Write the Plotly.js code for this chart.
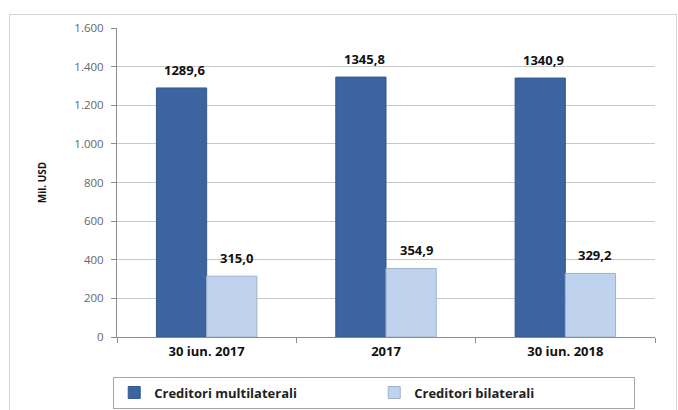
<!DOCTYPE html>
<html>
<head>
<meta charset="utf-8">
<script src="https://cdn.plot.ly/plotly-3.0.1.min.js"></script>
<style>
html,body{margin:0;padding:0;background:#fff;}
#frame{position:absolute;left:9px;top:14px;width:668px;height:400px;border:1px solid #d4d4d4;box-sizing:border-box;}
#chart{position:absolute;left:0;top:0;width:678px;height:410px;}
</style>
</head>
<body>
<div id="frame"></div>
<div id="chart"></div>
<script>
const categories = ['30 iun. 2017', '2017', '30 iun. 2018'];
const multilateral = [1289.6, 1345.8, 1340.9];
const bilateral = [315.0, 354.9, 329.2];
const seriesNames = ['Creditori multilaterali', 'Creditori bilaterali'];
const yTickVals = [0, 200, 400, 600, 800, 1000, 1200, 1400, 1600];

const fmt = v => v.toFixed(1).replace('.', ',');
const fmtTick = v => v >= 1000 ? Math.floor(v/1000) + '.' + String(v % 1000).padStart(3, '0') : String(v);

const traces = [
  {type:'bar', name:seriesNames[0], x:categories, y:multilateral,
   marker:{color:'#3b64a0', line:{color:'#34598f', width:1}}, hoverinfo:'skip'},
  {type:'bar', name:seriesNames[1], x:categories, y:bilateral,
   marker:{color:'#bfd3ee', line:{color:'#9fb2c9', width:1}}, hoverinfo:'skip'}
];

const annotations = [];
categories.forEach((c, i) => {
  annotations.push({x:i, y:multilateral[i], text:fmt(multilateral[i]), xref:'x', yref:'y',
    showarrow:false, xshift:-22, yshift:7, yanchor:'bottom',
    font:{family:'Open Sans, sans-serif', size:13, color:'#111', weight:'bold'}});
  annotations.push({x:i, y:bilateral[i], text:fmt(bilateral[i]), xref:'x', yref:'y',
    showarrow:false, xshift:30, yshift:7, yanchor:'bottom',
    font:{family:'Open Sans, sans-serif', size:13, color:'#111', weight:'bold'}});
});

const layout = {
  width:678, height:410,
  margin:{l:117, r:23, t:28, b:73, autoexpand:false},
  paper_bgcolor:'rgba(0,0,0,0)', plot_bgcolor:'#fff',
  barmode:'group', bargap:0.44, bargroupgap:0,
  showlegend:true,
  legend:{orientation:'h', x:-0.007, xanchor:'left', y:-0.128, yanchor:'top',
    bordercolor:'#a6a6a6', borderwidth:1, entrywidth:215, entrywidthmode:'pixels',
    font:{family:'Open Sans, sans-serif', size:13, color:'#222', weight:'bold'},
    itemwidth:30, traceorder:'normal'},
  xaxis:{type:'category', categoryorder:'array', categoryarray:categories, range:[-0.5, 2.5],
    automargin:false, showgrid:false, showline:true, linecolor:'#8c8c8c', linewidth:1,
    ticks:'outside', tickson:'boundaries', ticklen:5, tickcolor:'#8c8c8c', ticklabelstandoff:2,
    tickfont:{family:'Open Sans, sans-serif', size:13, color:'#111', weight:'bold'}},
  yaxis:{range:[0,1600], tickvals:yTickVals, ticktext:yTickVals.map(fmtTick), automargin:false,
    showgrid:true, gridcolor:'#c8c8c8', gridwidth:1, zeroline:false,
    showline:true, linecolor:'#8c8c8c', linewidth:1, ticks:'outside', ticklen:5, tickcolor:'#8c8c8c',
    ticklabelstandoff:5,
    tickfont:{family:'Open Sans, sans-serif', size:11.5, color:'#666'},
    title:{text:'Mil. USD', standoff:25, font:{family:'Open Sans, sans-serif', size:10, color:'#111', weight:'bold'}}},
  annotations:annotations
};

Plotly.newPlot('chart', traces, layout, {staticPlot:true, displayModeBar:false});
</script>
</body>
</html>
